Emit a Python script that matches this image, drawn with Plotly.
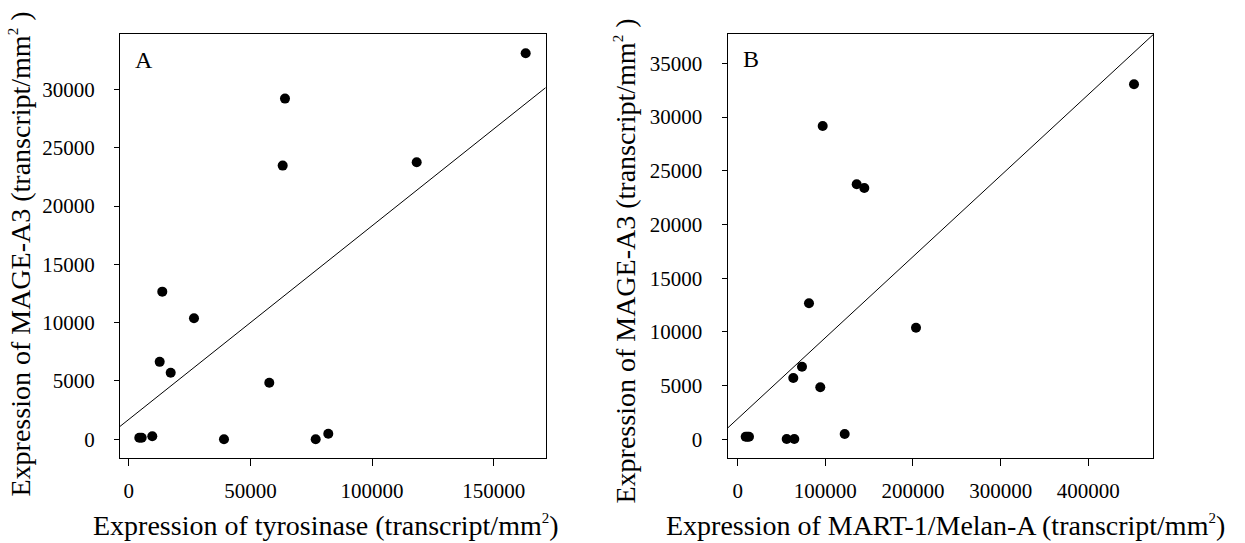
import numpy as np
import plotly.graph_objects as go
from plotly.subplots import make_subplots

# ---- data ----
tyrosinase_x = [4355, 5341, 9696, 13805, 26828, 12736, 17256, 39154, 57765,
                76828, 82005, 64215, 63270, 118324, 163106]
mage_a_y = [137, 137, 257, 12659, 10377, 6638, 5712, 0, 4854,
            0, 480, 29211, 23465, 23756, 33105]

mart_x = [9127, 11000, 12892, 55904, 64575, 81346, 203423, 73360, 63434,
          94238, 122076, 96976, 135767, 144438, 452139]
mage_b_y = [242, 242, 242, 28, 28, 12660, 10389, 6758, 5707,
            4841, 493, 29166, 23739, 23394, 33048]

xticks_a = [0, 50000, 100000, 150000]
yticks_a = [0, 5000, 10000, 15000, 20000, 25000, 30000]
xticks_b = [0, 100000, 200000, 300000, 400000]
yticks_b = [0, 5000, 10000, 15000, 20000, 25000, 30000, 35000]

xrange_a = [-3570, 171330]
yrange_a = [-1630, 34750]
xrange_b = [-11400, 474160]
yrange_b = [-1769, 37730]

W, H = 1245, 543
FONT = "Liberation Serif"

fig = make_subplots(rows=1, cols=2)

def add_panel(fig, xs, ys, xr, col):
    fig.add_trace(go.Scatter(x=xs, y=ys, mode="markers",
                             marker=dict(color="black", size=10),
                             showlegend=False), row=1, col=col)
    m, b = np.polyfit(xs, ys, 1)
    lx = np.array(xr, dtype=float)
    fig.add_trace(go.Scatter(x=lx, y=m * lx + b, mode="lines",
                             line=dict(color="black", width=1),
                             showlegend=False), row=1, col=col)

add_panel(fig, tyrosinase_x, mage_a_y, xrange_a, 1)
add_panel(fig, mart_x, mage_b_y, xrange_b, 2)

axis_common = dict(showline=True, mirror=True, linecolor="black", linewidth=1.3,
                   showgrid=False, zeroline=False, ticks="outside",
                   tickcolor="black", tickwidth=1.2, tickformat="d",
                   tickfont=dict(family=FONT, size=21, color="black"))

def px2x(p):
    return p / W

def px2y(p):
    return 1 - p / H

fig.update_xaxes(**axis_common)
fig.update_yaxes(**axis_common)

fig.update_layout(
    xaxis=dict(domain=[px2x(120), px2x(545.7)], range=xrange_a, tickvals=xticks_a,
               ticklen=7, ticklabelstandoff=6),
    yaxis=dict(domain=[px2y(458.3), px2y(34)], range=yrange_a, tickvals=yticks_a,
               ticklen=5, ticklabelstandoff=15),
    xaxis2=dict(domain=[px2x(727.7), px2x(1153.3)], range=xrange_b, tickvals=xticks_b,
                ticklen=7, ticklabelstandoff=6),
    yaxis2=dict(domain=[px2y(458.3), px2y(34)], range=yrange_b, tickvals=yticks_b,
                ticklen=5, ticklabelstandoff=15),
    width=W, height=H,
    margin=dict(l=0, r=0, t=0, b=0),
    plot_bgcolor="white", paper_bgcolor="white",
    font=dict(family=FONT, color="black"),
)

title_font = dict(family=FONT, size=28, color="black")
sup = "<sup><span style='font-size:15px'>2</span></sup>"
annots = [
    dict(text="Expression of tyrosinase (transcript/mm" + sup + ")",
         x=px2x(325.5), y=0, xanchor="center", yanchor="bottom", font=title_font),
    dict(text="Expression of MART-1/Melan-A (transcript/mm" + sup + ")",
         x=px2x(945.7), y=0, xanchor="center", yanchor="bottom", font=title_font),
    dict(text="Expression of MAGE-A3 (transcript/mm" + sup + " )",
         x=px2x(2), y=px2y(254), xanchor="left", yanchor="middle",
         textangle=-90, font=title_font),
    dict(text="Expression of MAGE-A3 (transcript/mm" + sup + " )",
         x=px2x(607), y=px2y(261), xanchor="left", yanchor="middle",
         textangle=-90, font=title_font),
    dict(text="A", x=px2x(133), y=px2y(60.5), xanchor="left", yanchor="middle",
         font=dict(family=FONT, size=24, color="black")),
    dict(text="B", x=px2x(741), y=px2y(59), xanchor="left", yanchor="middle",
         font=dict(family=FONT, size=24, color="black")),
]
for a in annots:
    a.update(xref="paper", yref="paper", showarrow=False)
fig.update_layout(annotations=annots)

fig.write_html("out.html")
